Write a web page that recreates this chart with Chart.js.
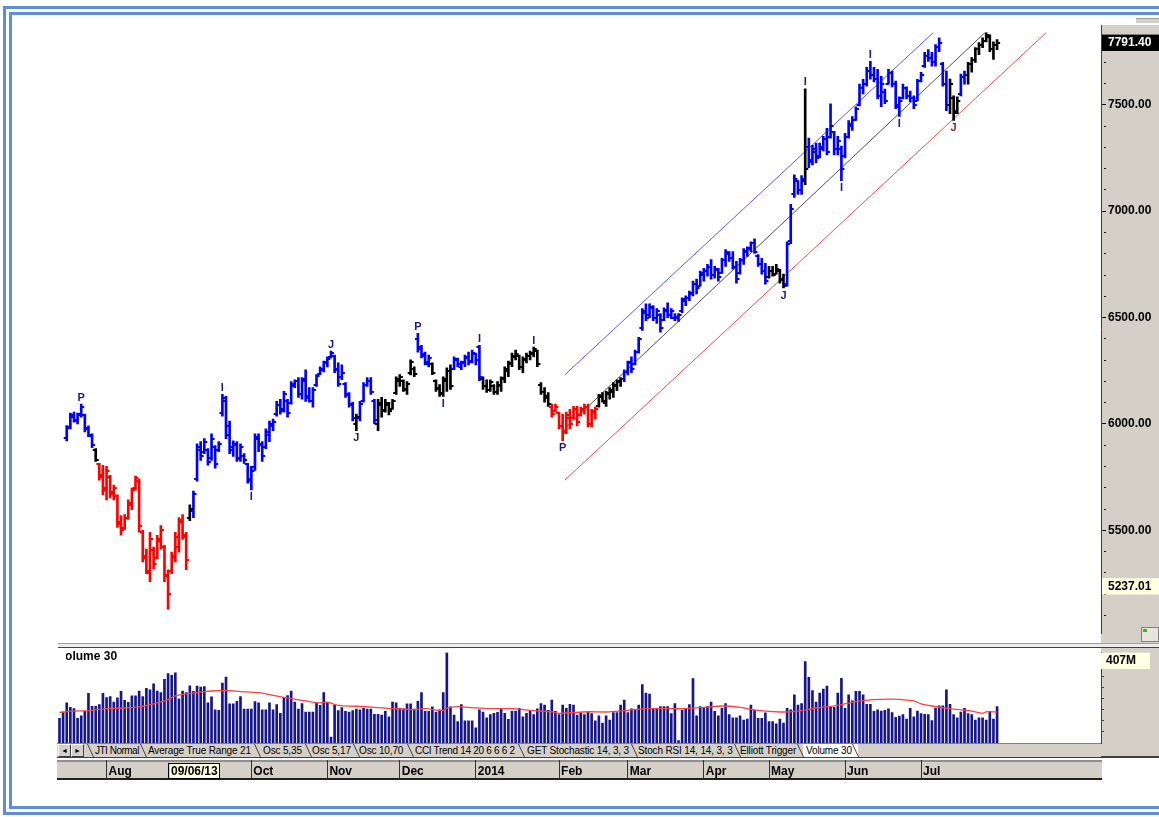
<!DOCTYPE html>
<html>
<head>
<meta charset="utf-8">
<script src="https://cdn.jsdelivr.net/npm/chart.js@4.4.1/dist/chart.umd.min.js"></script>
<style>
  html, body { margin:0; padding:0; width:1159px; height:817px; overflow:hidden; background:#fff; font-family:"Liberation Sans", Arial, sans-serif; }
  .abs { position:absolute; }
  #frameOuter { left:3px; top:6px; width:1200px; height:809px; border:3px solid #5b8fd9; box-sizing:border-box; }
  #frameInner { left:9px; top:12px; width:1200px; height:797px; border:3px solid #5b8fd9; box-sizing:border-box; }
  #priceAxisBg { left:1101px; top:25px; width:58px; height:618px; background:#d4d0c8; }
  #topGray { left:1136px; top:18px; width:23px; height:5px; background:#d4d0c8; border-top:1px solid #a0a0a0; box-sizing:border-box; }
  #sepBand { left:58px; top:643px; width:1101px; height:5px; background:#ececec; border-top:1px solid #a0a0a0; border-bottom:1px solid #404040; box-sizing:border-box; }
  #volAxisBg { left:1101px; top:648px; width:58px; height:110px; background:#d4d0c8; border-bottom:2px solid #404040; box-sizing:border-box; }
  #dateBg { left:57px; top:760px; width:1045px; height:20px; background:#d4d0c8; border-top:2px solid #909090; border-bottom:2px solid #202020; box-sizing:border-box; }
  canvas { position:absolute; left:0; }
  #pc { top:0; }
  #vc { top:643px; }
  #tabs { left:57px; top:743px; width:1044px; height:15px; background:#d4d0c8; border-top:1px solid #808080; border-bottom:1px solid #404040; box-sizing:border-box; z-index:3; overflow:hidden; }
  #gap { left:57px; top:758px; width:1045px; height:2px; background:#fff; z-index:3; }
  .btn { position:absolute; top:0; width:11px; height:11px; border:1px solid; border-color:#fff #404040 #404040 #fff; font-size:7px; line-height:11px; text-align:center; background:#d4d0c8; color:#000; }
  .sep { position:absolute; top:0; height:13px; width:0; border-left:1px solid #404040; transform:skewX(25deg); }
  .tab { position:absolute; top:0; font-size:10px; line-height:13px; white-space:nowrap; color:#000; letter-spacing:-0.15px; }
  .activeTab { position:absolute; top:0; height:13px; background:#fff; }
  #volTitle { left:66px; top:649px; width:80px; height:14px; overflow:hidden; z-index:3; font-weight:bold; font-size:12px; line-height:14px; white-space:nowrap; }
  #volTitle span { margin-left:-8px; }
  #dateBox { left:168px; top:763px; width:50px; height:14px; border:1px solid #000; z-index:3; }
  #icon { left:1141px; top:627px; width:16px; height:13px; border:1px solid #808080; background:#e8e4da; z-index:3; }
  #icon i { position:absolute; left:1px; top:1px; width:4px; height:3px; background:#20c020; }
</style>
</head>
<body>
<div id="frameOuter" class="abs"></div>
<div id="frameInner" class="abs"></div>
<div id="topGray" class="abs"></div>
<div id="priceAxisBg" class="abs"></div>
<div id="sepBand" class="abs"></div>
<div id="volAxisBg" class="abs"></div>
<div id="dateBg" class="abs"></div>
<canvas id="pc" width="1159" height="643"></canvas>
<canvas id="vc" width="1159" height="138"></canvas>
<div id="tabs" class="abs">
  <div class="btn" style="left:1px">&#9668;</div>
  <div class="btn" style="left:14px">&#9658;</div>
  <div class="activeTab" style="left:746px;width:55px"></div>
  <div class="sep" style="left:33px"></div>
  <div class="sep" style="left:86px"></div>
  <div class="sep" style="left:200px"></div>
  <div class="sep" style="left:251px"></div>
  <div class="sep" style="left:299px"></div>
  <div class="sep" style="left:353px"></div>
  <div class="sep" style="left:464px"></div>
  <div class="sep" style="left:577px"></div>
  <div class="sep" style="left:680px"></div>
  <div class="sep" style="left:743px"></div>
  <div class="sep" style="left:798px"></div>
  <span class="tab" style="left:38px;letter-spacing:-0.5px">JTI Normal</span>
  <span class="tab" style="left:91px">Average True Range 21</span>
  <span class="tab" style="left:206px">Osc 5,35</span>
  <span class="tab" style="left:255px">Osc 5,17</span>
  <span class="tab" style="left:302px">Osc 10,70</span>
  <span class="tab" style="left:358px;letter-spacing:-0.3px">CCI Trend 14 20 6 6 6 2</span>
  <span class="tab" style="left:470px">GET Stochastic 14, 3, 3</span>
  <span class="tab" style="left:581px">Stoch RSI 14, 14, 3, 3</span>
  <span class="tab" style="left:683px">Elliott Trigger</span>
  <span class="tab" style="left:749px">Volume 30</span>
</div>
<div id="gap" class="abs"></div>
<div id="volTitle" class="abs"><span>Volume 30</span></div>
<div id="dateBox" class="abs"></div>
<div id="icon" class="abs"><i></i></div>

<script>
// ---------------- DATA ----------------
const firstBar = 2; // bar index of the first price bar

const highs = [
5992,6051,6056,6051,6093,6046,5991,5954,5884,5815,
5806,5801,5759,5713,5667,5570,5574,5643,5699,5755,
5741,5500,5412,5491,5421,5477,5523,5430,5315,5398,
5491,5560,5574,5491,5620,5685,5907,5917,5931,5884,
5954,5898,5917,6139,6130,6014,5921,5917,5907,5861,
5815,5801,5954,5954,5917,5977,6014,6023,6106,6116,
6153,6116,6199,6208,6218,6218,6255,6171,6171,6232,
6268,6296,6315,6343,6324,6287,6278,6194,6148,6102,
6046,6106,6194,6218,6218,6116,6116,6125,6116,6102,
6116,6222,6232,6208,6199,6301,6269,6426,6370,6338,
6324,6287,6208,6185,6222,6264,6278,6315,6310,6296,
6324,6338,6347,6333,6370,6222,6208,6208,6185,6199,
6222,6269,6296,6333,6347,6324,6315,6333,6343,6361,
6347,6194,6171,6148,6093,6093,6056,6046,6056,6069,
6083,6083,6079,6093,6093,6069,6079,6139,6148,6153,
6171,6194,6208,6218,6255,6296,6315,6347,6407,6542,
6565,6565,6556,6542,6519,6546,6569,6542,6519,6519,
6593,6602,6625,6671,6681,6718,6731,6750,6773,6741,
6731,6778,6820,6810,6810,6764,6778,6824,6833,6856,
6870,6796,6778,6755,6741,6741,6750,6727,6704,6856,
7032,7171,7144,7167,7575,7343,7310,7320,7320,7352,
7389,7505,7375,7352,7306,7366,7426,7445,7491,7597,
7620,7676,7704,7676,7667,7634,7574,7667,7658,7611,
7537,7597,7584,7565,7542,7620,7653,7746,7759,7746,
7783,7815,7699,7658,7621,7542,7537,7644,7658,7699,
7722,7769,7792,7815,7838,7829,7796,7806];

const lows = [
5920,5977,6009,6000,6032,5963,5940,5889,5824,5736,
5667,5643,5653,5643,5514,5477,5505,5551,5597,5690,
5491,5352,5296,5259,5319,5366,5412,5259,5130,5296,
5352,5398,5458,5315,5546,5560,5731,5829,5861,5806,
5829,5792,5870,6037,5931,5861,5847,5824,5824,5815,
5722,5690,5782,5870,5824,5884,5917,5968,6037,6046,
6056,6032,6093,6171,6125,6116,6106,6102,6079,6176,
6232,6245,6268,6310,6241,6176,6208,6125,6079,6014,
5968,6014,6102,6176,6139,6000,5968,6032,6056,6042,
6069,6139,6176,6153,6139,6231,6222,6338,6310,6278,
6268,6232,6153,6130,6130,6153,6162,6255,6269,6255,
6269,6278,6287,6278,6204,6162,6148,6153,6139,6139,
6153,6194,6222,6269,6301,6255,6241,6287,6301,6315,
6269,6139,6102,6083,6032,6056,5977,5921,5954,5977,
6023,5991,6037,6046,5986,5986,6023,6079,6102,6083,
6116,6125,6157,6176,6199,6231,6241,6278,6333,6440,
6486,6500,6486,6472,6431,6486,6500,6495,6486,6482,
6523,6556,6579,6602,6611,6648,6671,6695,6681,6685,
6671,6708,6741,6764,6727,6662,6704,6750,6787,6810,
6801,6741,6704,6657,6685,6695,6704,6662,6639,6648,
6847,7065,7079,7079,7125,7204,7218,7227,7250,7283,
7264,7343,7264,7264,7144,7250,7343,7380,7426,7495,
7551,7588,7621,7607,7528,7491,7505,7597,7584,7482,
7445,7528,7528,7514,7482,7519,7607,7676,7704,7681,
7681,7750,7588,7472,7458,7426,7458,7542,7597,7597,
7653,7699,7736,7769,7796,7750,7713,7759];

const opens = [
5935,5985,6035,6015,6040,6040,5980,5945,5880,5810,
5760,5690,5750,5680,5660,5530,5510,5560,5620,5700,
5730,5490,5380,5300,5410,5370,5450,5420,5290,5310,
5370,5420,5550,5470,5560,5590,5740,5880,5870,5880,
5840,5890,5880,6050,6110,5990,5890,5905,5835,5850,
5810,5730,5800,5930,5905,5890,5950,5990,6045,6090,
6070,6110,6100,6180,6200,6140,6200,6130,6110,6185,
6235,6255,6285,6315,6320,6260,6220,6190,6140,6095,
6000,6030,6110,6185,6200,6110,6000,6090,6065,6090,
6070,6145,6200,6200,6160,6240,6260,6400,6360,6330,
6280,6280,6200,6170,6140,6200,6250,6260,6300,6270,
6285,6310,6295,6330,6360,6210,6180,6160,6180,6150,
6180,6210,6250,6280,6315,6320,6270,6300,6320,6330,
6345,6185,6150,6130,6080,6060,6050,5990,5965,6030,
6030,6070,6040,6065,6080,6000,6050,6085,6125,6100,
6140,6150,6180,6195,6210,6245,6290,6280,6340,6450,
6520,6510,6545,6500,6510,6490,6530,6510,6500,6500,
6530,6580,6590,6610,6660,6650,6700,6720,6740,6700,
6725,6710,6770,6800,6780,6740,6710,6770,6810,6820,
6850,6790,6750,6720,6690,6720,6705,6720,6680,6660,
6860,7080,7140,7100,7140,7300,7240,7280,7260,7290,
7340,7350,7370,7290,7290,7260,7350,7400,7430,7500,
7580,7600,7660,7640,7620,7540,7560,7600,7650,7600,
7490,7530,7580,7540,7530,7520,7610,7680,7730,7720,
7700,7770,7690,7600,7500,7530,7470,7550,7630,7640,
7690,7710,7760,7780,7800,7820,7760,7780];

const closes = [
5980,6040,6020,6045,6080,5975,5950,5900,5830,5750,
5700,5780,5670,5700,5540,5500,5560,5630,5690,5745,
5520,5370,5310,5460,5340,5460,5500,5285,5200,5380,
5470,5540,5480,5360,5600,5670,5890,5850,5915,5820,
5930,5810,5905,6120,5950,5880,5900,5840,5890,5830,
5740,5780,5940,5900,5850,5960,6000,6010,6090,6060,
6140,6050,6190,6200,6140,6210,6120,6110,6160,6225,
6260,6290,6305,6335,6255,6190,6240,6135,6090,6030,
6035,6095,6185,6200,6150,6020,6100,6060,6100,6060,
6110,6210,6220,6165,6190,6290,6235,6350,6320,6290,
6310,6240,6165,6145,6210,6250,6180,6305,6280,6290,
6315,6290,6335,6300,6220,6180,6160,6195,6150,6185,
6215,6260,6285,6320,6330,6270,6305,6320,6335,6350,
6280,6150,6120,6095,6045,6080,5990,5960,6040,6000,
6070,6010,6070,6080,6000,6060,6070,6130,6110,6145,
6160,6185,6200,6210,6245,6285,6260,6340,6400,6530,
6500,6550,6500,6530,6450,6535,6510,6530,6505,6510,
6585,6590,6615,6660,6640,6710,6720,6740,6700,6730,
6690,6770,6810,6780,6740,6680,6770,6815,6825,6850,
6810,6750,6720,6670,6720,6700,6730,6675,6650,6845,
7010,7150,7100,7150,7200,7230,7290,7250,7300,7340,
7280,7400,7290,7330,7200,7350,7410,7430,7480,7580,
7600,7660,7640,7620,7540,7600,7520,7650,7600,7500,
7520,7580,7540,7530,7500,7610,7640,7730,7720,7700,
7770,7790,7600,7500,7600,7460,7520,7630,7640,7690,
7710,7760,7780,7800,7830,7760,7780,7791.4];

// trend state of the bars: [first bar, last bar, state]
const trendSegments = [
  [2,9,'up'],[10,10,'flat'],[11,35,'down'],[36,36,'flat'],[37,81,'up'],[82,82,'flat'],
  [83,87,'up'],[88,98,'flat'],[99,102,'up'],[103,108,'flat'],[109,116,'up'],[117,135,'flat'],
  [136,148,'down'],[149,155,'flat'],[156,195,'up'],[196,200,'flat'],[201,205,'up'],[206,206,'flat'],
  [207,245,'up'],[246,248,'flat'],[249,250,'up'],[251,259,'flat']
];

// wave markers
const markerIdx   = [6,45,53,75,82,99,106,116,131,139,200,206,216,224,232,247];
const markerText  = ['P','I','I','J','J','P','I','I','I','P','J','I','I','I','I','J'];
const markerSide  = ['above','above','below','above','below','above','below','above','above','below','below','above','below','above','below','below'];
const markerTone  = ['n','n','n','n','n','n','n','n','n','n','n','n','n','n','n','r'];

// regression channel endpoints [bar index, price]
const channelUpper = [[139.6,6231],[241.3,7838]];
const channelMid   = [[140.0,5986],[255.6,7838]];
const channelLower = [[139.6,5736],[272.5,7838]];

// volume in millions, bar 0..259
const volumes = [
111,140,181,161,155,111,123,143,224,166,
166,174,224,205,210,185,204,233,193,184,
213,213,235,210,247,240,267,235,228,287,
314,305,317,200,235,228,258,233,257,253,
255,181,208,150,148,271,298,177,177,188,
210,153,153,153,187,181,150,150,181,150,
173,134,205,214,235,185,153,178,140,140,
140,183,170,228,183,27,170,146,160,143,
140,146,153,150,157,153,153,130,130,126,
143,118,185,181,157,153,177,177,153,188,
228,143,143,163,140,150,228,407,163,126,
97,173,100,100,100,68,150,140,114,128,
134,138,153,134,107,143,144,157,118,134,
147,128,154,178,171,147,194,143,128,171,
157,175,171,126,137,128,140,133,100,123,
90,123,104,137,137,171,194,137,154,151,
171,264,225,221,157,157,165,165,165,133,
178,11,147,157,173,291,123,165,157,165,
185,143,123,157,178,128,114,114,123,104,
108,171,147,111,111,136,97,97,86,108,
90,157,150,218,171,178,368,297,237,185,
225,244,257,161,161,225,292,157,218,190,
233,233,218,175,175,143,150,144,147,154,
137,116,121,128,108,157,118,144,133,130,
128,101,157,168,168,240,175,128,114,140,
157,133,128,104,114,114,104,143,108,165];

// 30-day volume average read at selected bars
const volMaIdx = [0,4,8,13,18,22,26,30,32,36,40,46,50,55,59,65,68,71,74,77,82,87,92,98,101,106,107,110,113,119,125,130,136,138,146,151,156,162,167,172,178,183,188,193,199,204,209,215,220,225,230,236,238,241,246,252,255,256,259];
const volMaVal = [138,144,146,155,158,163,177,196,213,224,232,237,232,227,215,198,190,181,184,170,166,161,155,151,155,146,158,164,161,155,155,147,141,134,141,140,146,155,155,155,161,167,161,147,140,144,158,170,187,196,198,190,177,167,155,144,134,141,140];

// axis labels
const monthStartIdx = [13,53,74,94,115,138,157,178,196,217,238];
const monthLabels   = ['Aug','Oct','Nov','Dec','2014','Feb','Mar','Apr','May','Jun','Jul'];
const cursorIdx = 30.25, cursorLabel = '09/06/13';
const priceMajorTicks = [5500,6000,6500,7000,7500];
const lastPrice = 7791.40, panelLowPrice = 5237.01;
const volumeMaxLabel = 407;

// ---------------- STYLE / BUILD ----------------
const FONT = '"Liberation Sans", Arial, sans-serif';
const trendColor = { up:'#0000ff', down:'#ff0000', flat:'#000000' };
const markerColor = { n:'#1a1a8a', r:'#8b1a1a' };
const barTrend = [];
trendSegments.forEach(([a,b,t]) => { for (let i=a;i<=b;i++) barTrend[i-firstBar]=t; });
const barColors = barTrend.map(t => trendColor[t]);

function tickImage(color, side) {
  const c = document.createElement('canvas');
  c.width = 8; c.height = 2;
  const g = c.getContext('2d');
  g.fillStyle = color;
  if (side === 'open') g.fillRect(1,0,3,2); else g.fillRect(4,0,3,2);
  return c;
}
const openImg = {}, closeImg = {};
for (const t in trendColor) { openImg[t] = tickImage(trendColor[t],'open'); closeImg[t] = tickImage(trendColor[t],'close'); }

const xMin = -0.414, xMax = 287.71;
const TRANSPARENT = 'rgba(0,0,0,0)';

const markerPlugin = {
  id:'markers',
  afterDatasetsDraw(chart) {
    const {ctx, scales:{x, y}} = chart;
    ctx.save();
    ctx.font = 'bold 11px ' + FONT;
    ctx.textAlign = 'center';
    markerIdx.forEach((idx, k) => {
      const b = idx - firstBar;
      const px = x.getPixelForValue(idx);
      ctx.fillStyle = markerColor[markerTone[k]];
      if (markerSide[k] === 'above') {
        ctx.textBaseline = 'bottom';
        ctx.fillText(markerText[k], px, y.getPixelForValue(highs[b]) - 1);
      } else {
        ctx.textBaseline = 'top';
        ctx.fillText(markerText[k], px, y.getPixelForValue(lows[b]) + 2);
      }
    });
    ctx.restore();
  }
};

const isSpecialPrice = v => v === lastPrice || v === panelLowPrice;

new Chart(document.getElementById('pc'), {
  type:'bar',
  data:{ datasets:[
    { type:'line', data: channelUpper.map(([x,y])=>({x,y})), borderColor:'#5a5aff', borderWidth:1, pointRadius:0, order:5 },
    { type:'line', data: channelMid.map(([x,y])=>({x,y})),   borderColor:'#505050', borderWidth:1, pointRadius:0, order:5 },
    { type:'line', data: channelLower.map(([x,y])=>({x,y})), borderColor:'#ff4a4a', borderWidth:1, pointRadius:0, order:5 },
    { type:'bar', data: highs.map((h,k)=>({x:firstBar+k, y:[lows[k], h]})), backgroundColor: barColors, barThickness:2, order:3 },
    { type:'scatter', data: opens.map((o,k)=>({x:firstBar+k, y:o})), pointStyle: c => openImg[barTrend[c.dataIndex]], pointRadius:2, order:1 },
    { type:'scatter', data: closes.map((o,k)=>({x:firstBar+k, y:o})), pointStyle: c => closeImg[barTrend[c.dataIndex]], pointRadius:2, order:1 }
  ]},
  options:{
    responsive:false, animation:false, events:[],
    layout:{ padding:{ left:58, top:25, right:0, bottom:0 } },
    plugins:{ legend:{display:false}, tooltip:{enabled:false} },
    scales:{
      x:{ type:'linear', min:xMin, max:xMax, display:false, offset:false, grid:{offset:false} },
      y:{ type:'linear', position:'right', min:5013.9, max:7875,
          afterFit: s => { s.width = 58; },
          afterBuildTicks: s => {
            const t = [];
            for (let v = 5100; v <= 7800; v += 100) t.push(v);
            t.push(lastPrice, panelLowPrice);
            t.sort((a,b)=>a-b);
            s.ticks = t.map(v => ({value:v}));
          },
          ticks:{ autoSkip:false, padding:2, font:{family:FONT, size:12, weight:'bold'},
                  color: c => (c.tick && c.tick.value === lastPrice) ? '#ffffff' : '#000000',
                  callback: v => (priceMajorTicks.includes(v) || isSpecialPrice(v)) ? v.toFixed(2) : '',
                  showLabelBackdrop: c => !!(c.tick && isSpecialPrice(c.tick.value)),
                  backdropColor: c => (c.tick && c.tick.value === lastPrice) ? '#000000' : '#ffffe1',
                  backdropPadding:{ left:6, right:10, top:1, bottom:1 } },
          grid:{ drawOnChartArea:false, tickLength:5,
                 tickColor: c => (c.tick && isSpecialPrice(c.tick.value)) ? TRANSPARENT : '#000000',
                 tickBorderDash: c => (c.tick && !priceMajorTicks.includes(c.tick.value)) ? [0,2,2,1] : [] },
          border:{ display:true, color:'#404040', width:1 } }
    }
  },
  plugins:[markerPlugin]
});

const dateTicks = monthStartIdx.map((v,k)=>({value:v, label:monthLabels[k]})).concat([{value:cursorIdx, label:cursorLabel}]).sort((a,b)=>a.value-b.value);
const dateLabelOf = v => { const d = dateTicks.find(t => t.value === v); return d ? d.label : ''; };

new Chart(document.getElementById('vc'), {
  type:'bar',
  data:{ datasets:[
    { type:'line', data: volMaIdx.map((x,k)=>({x, y:volMaVal[k]})), borderColor:'#ff4040', borderWidth:1.3, pointRadius:0, tension:0.3, order:1 },
    { type:'bar', data: volumes.map((v,i)=>({x:i, y:v})), backgroundColor:'#16168a', barThickness:2, order:2 }
  ]},
  options:{
    responsive:false, animation:false, events:[],
    layout:{ padding:{ left:58, top:5, right:0, bottom:0 } },
    plugins:{ legend:{display:false}, tooltip:{enabled:false} },
    scales:{
      x:{ type:'linear', min:xMin, max:xMax, offset:false, position:'bottom',
          afterFit: s => { s.height = 38; },
          afterBuildTicks: s => { s.ticks = dateTicks.map(t => ({value:t.value})); },
          ticks:{ autoSkip:false, maxRotation:0, minRotation:0, align:'start', padding:-15, labelOffset:2,
                  font:{family:FONT, size:12, weight:'bold'}, color:'#000000',
                  callback: v => dateLabelOf(v),
                  showLabelBackdrop: c => !!(c.tick && c.tick.value === cursorIdx),
                  backdropColor:'#ffffe1', backdropPadding:{left:1,right:2,top:0,bottom:0} },
          grid:{ offset:false, drawOnChartArea:false, tickLength:36, tickWidth:1,
                 tickColor: c => (c.tick && c.tick.value === cursorIdx) ? TRANSPARENT : '#303030' },
          border:{ display:false } },
      y:{ type:'linear', position:'right', min:0, max:410,
          afterFit: s => { s.width = 58; },
          afterBuildTicks: s => {
            const t = [];
            for (let v = 50; v <= 400; v += 50) t.push(v);
            t.push(volumeMaxLabel);
            s.ticks = t.map(v => ({value:v}));
          },
          ticks:{ autoSkip:false, padding:2, labelOffset:8, font:{family:FONT, size:12, weight:'bold'}, color:'#000000',
                  callback: v => v === volumeMaxLabel ? volumeMaxLabel + 'M' : '',
                  showLabelBackdrop: c => !!(c.tick && c.tick.value === volumeMaxLabel),
                  backdropColor:'#ffffe1', backdropPadding:{left:6, right:14, top:1, bottom:1} },
          grid:{ drawOnChartArea:false, tickLength:3,
                 tickColor: c => (c.tick && c.tick.value === volumeMaxLabel) ? TRANSPARENT : '#404040' },
          border:{ display:true, color:'#404040', width:1 } }
    }
  }
});
</script>
</body>
</html>
